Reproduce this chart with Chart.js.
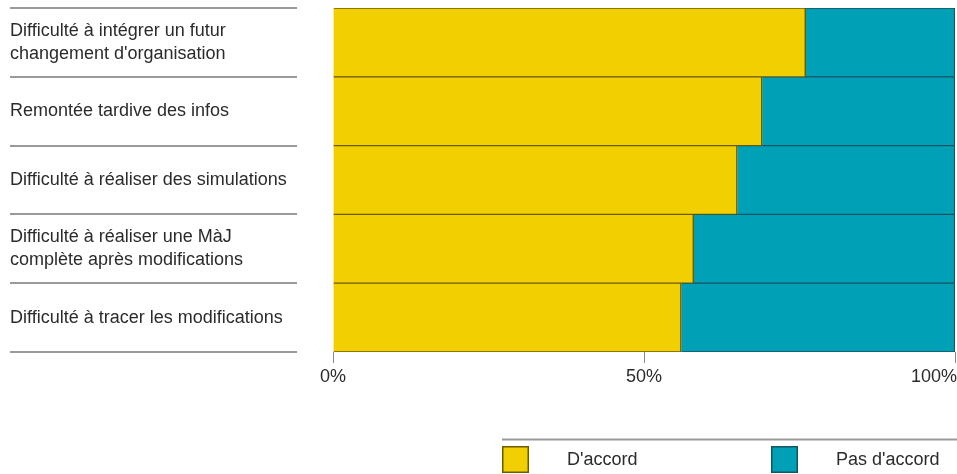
<!DOCTYPE html>
<html lang="fr">
<head>
<meta charset="utf-8">
<script src="https://cdn.jsdelivr.net/npm/chart.js@4.4.1/dist/chart.umd.min.js"></script>
<style>
    html, body { margin: 0; padding: 0; background: #fff; }
    #wrap { width: 957px; height: 474px; position: relative; }
</style>
</head>
<body>
<div id="wrap"><canvas id="graficoAccord"></canvas></div>
<script>
const categorias = [
    ["Difficulté à intégrer un futur", "changement d'organisation"],
    "Remontée tardive des infos",
    "Difficulté à réaliser des simulations",
    ["Difficulté à réaliser une MàJ", "complète après modifications"],
    "Difficulté à tracer les modifications"
];
const dAccord = [76, 69, 65, 58, 56];
const pasDAccord = [24, 31, 35, 42, 44];
const ticksX = [0, 50, 100];
const rotulosX = ["0%", "50%", "100%"];

const FONTE = "'Liberation Sans', Arial, Helvetica, sans-serif";
const COR_TEXTO = "#2b2b2b";
const COR_LINHA = "#9a9a9a";

// lignes de séparation à gauche, étiquettes de l'axe X et légende
const decorPlugin = {
    id: "decorPlugin",
    afterDraw(chart) {
        const { ctx, scales: { x, y } } = chart;
        ctx.save();

        ctx.strokeStyle = COR_LINHA;
        ctx.lineWidth = 2;
        for (let i = 0; i <= categorias.length; i++) {
            const py = Math.round(y.getPixelForValue(i - 0.5));
            ctx.beginPath();
            ctx.moveTo(10, py);
            ctx.lineTo(297, py);
            ctx.stroke();
        }

        ctx.fillStyle = COR_TEXTO;
        ctx.font = "18px " + FONTE;
        ctx.textBaseline = "middle";
        ticksX.forEach((v, i) => {
            const px = x.getPixelForValue(v);
            const w = ctx.measureText(rotulosX[i]).width;
            let left = px - w / 2;
            if (left + w > chart.width) left = chart.width - w;
            ctx.textAlign = "left";
            ctx.fillText(rotulosX[i], left, 377);
        });

        // légende
        ctx.beginPath();
        ctx.moveTo(502, 439.5);
        ctx.lineTo(chart.width, 439.5);
        ctx.stroke();

        const posLegenda = [{ box: 502, text: 567 }, { box: 771, text: 836 }];
        chart.data.datasets.forEach((ds, i) => {
            const p = posLegenda[i];
            ctx.fillStyle = ds.backgroundColor;
            ctx.fillRect(p.box, 446, 27, 27);
            ctx.strokeStyle = ds.borderColor;
            ctx.lineWidth = 1.5;
            ctx.strokeRect(p.box + 0.75, 446.75, 25.5, 25.5);
            ctx.fillStyle = COR_TEXTO;
            ctx.textAlign = "left";
            ctx.fillText(ds.label, p.text, 460);
        });

        ctx.restore();
    }
};

const estiloBarra = {
    borderWidth: { top: 1, bottom: 1, right: 1.5, left: 0 },
    borderSkipped: false,
    barPercentage: 1,
    categoryPercentage: 1
};

new Chart(document.getElementById("graficoAccord"), {
    type: "bar",
    data: {
        labels: categorias,
        datasets: [
            {
                label: "D'accord",
                data: dAccord,
                backgroundColor: "#f2cf00",
                borderColor: "#6b5c00",
                ...estiloBarra
            },
            {
                label: "Pas d'accord",
                data: pasDAccord,
                backgroundColor: "#00a1b7",
                borderColor: "#145560",
                ...estiloBarra
            }
        ]
    },
    options: {
        indexAxis: "y",
        responsive: true,
        maintainAspectRatio: false,
        animation: false,
        layout: { padding: { left: 10, top: 8, right: 2, bottom: 0 } },
        plugins: {
            legend: { display: false },
            tooltip: { enabled: false }
        },
        scales: {
            x: {
                stacked: true,
                min: 0,
                max: 100,
                afterBuildTicks(scale) {
                    scale.ticks = ticksX.map(v => ({ value: v }));
                },
                afterFit(scale) {
                    scale.height = 122;
                    scale.paddingLeft = 0;
                    scale.paddingRight = 0;
                },
                border: { display: false },
                grid: {
                    drawOnChartArea: false,
                    drawTicks: true,
                    tickLength: 11,
                    color: "#8a8a8a"
                },
                ticks: { display: false }
            },
            y: {
                stacked: true,
                afterFit(scale) {
                    scale.width = 323;
                    scale.paddingTop = 0;
                    scale.paddingBottom = 0;
                },
                border: { display: false },
                grid: { display: false },
                ticks: {
                    crossAlign: "far",
                    color: COR_TEXTO,
                    font: { family: FONTE, size: 18, lineHeight: 1.28 }
                }
            }
        }
    },
    plugins: [decorPlugin]
});
</script>
</body>
</html>
